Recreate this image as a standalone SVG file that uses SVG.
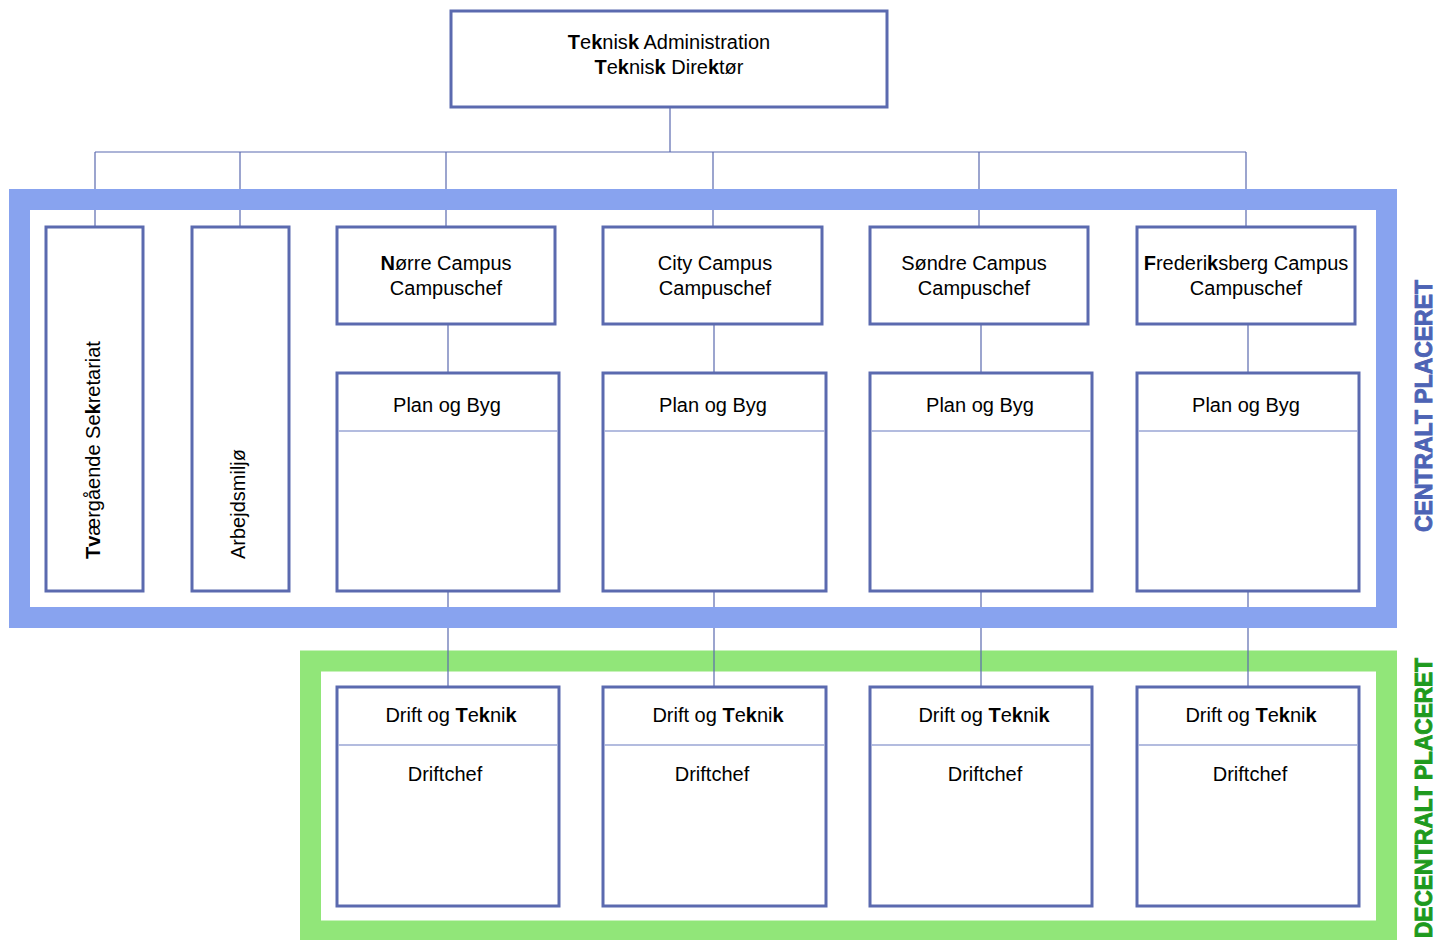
<svg xmlns="http://www.w3.org/2000/svg" width="1437" height="940" viewBox="0 0 1437 940">
<style>
.box{fill:#fff;stroke:#5B6AAF;stroke-width:3}
.con{stroke:#5B6AAF;stroke-width:1.2;fill:none}
.div{stroke:#9AA6D4;stroke-width:1.5}
text{font-family:"Liberation Sans",Arial,sans-serif;font-size:20px;fill:#000}
.c{text-anchor:middle}
.b{font-weight:bold}
.side{font-family:"Liberation Sans",Arial,sans-serif;font-weight:bold;font-size:24px;text-anchor:middle;stroke-width:0.9}
</style>
<rect width="1437" height="940" fill="#fff"/>
<g id="frame-decentral">
<rect x="310.5" y="661" width="1076" height="270" fill="none" stroke="#91E679" stroke-width="21"/>
</g>
<g id="connectors">
<path class="con" d="M670 107V152M95 152H1246M95 152V227M240 152V227M446 152V227M713 152V227M979 152V227M1246 152V227"/>
<path class="con" d="M448 324V373M714 324V373M981 324V373M1248 324V373"/>
<path class="con" d="M448 591V687M714 591V687M981 591V687M1248 591V687"/>
</g>
<g id="frame-central">
<rect x="19.5" y="199.5" width="1367" height="418" fill="none" stroke="#88A3EF" stroke-width="21"/>
</g>
<g id="top">
<rect class="box" x="451" y="11" width="436" height="96"/>
<text class="c" x="669" y="49"><tspan class="b">T</tspan>e<tspan class="b">k</tspan>nis<tspan class="b">k</tspan> Administration</text>
<text class="c" x="669" y="74"><tspan class="b">T</tspan>e<tspan class="b">k</tspan>nis<tspan class="b">k</tspan> Dire<tspan class="b">k</tspan>tør</text>
</g>
<g id="tvaergaaende">
<rect class="box" x="46" y="227" width="97" height="364"/>
<text transform="translate(100 559) rotate(-90)"><tspan class="b">Tv</tspan>ærgående Se<tspan class="b">k</tspan>retariat</text>
</g>
<g id="arbejdsmiljo">
<rect class="box" x="192" y="227" width="97" height="364"/>
<text transform="translate(245 559) rotate(-90)">Arbejdsmiljø</text>
</g>
<g id="norre">
<rect class="box" x="337" y="227" width="218" height="97"/>
<text class="c" x="446" y="270"><tspan class="b">N</tspan>ørre Campus</text>
<text class="c" x="446" y="295">Campuschef</text>
</g>
<g id="city">
<rect class="box" x="603" y="227" width="219" height="97"/>
<text class="c" x="715" y="270">City Campus</text>
<text class="c" x="715" y="295">Campuschef</text>
</g>
<g id="sondre">
<rect class="box" x="870" y="227" width="218" height="97"/>
<text class="c" x="974" y="270">Søndre Campus</text>
<text class="c" x="974" y="295">Campuschef</text>
</g>
<g id="frederiksberg">
<rect class="box" x="1137" y="227" width="218" height="97"/>
<text class="c" x="1246" y="270"><tspan class="b">F</tspan>rederi<tspan class="b">k</tspan>sberg Campus</text>
<text class="c" x="1246" y="295">Campuschef</text>
</g>
<g id="planbyg-norre">
<rect class="box" x="337" y="373" width="222" height="218"/>
<line class="div" x1="338.5" y1="431" x2="557.5" y2="431"/>
<text class="c" x="447" y="412">Plan og Byg</text>
</g>
<g id="planbyg-city">
<rect class="box" x="603" y="373" width="223" height="218"/>
<line class="div" x1="604.5" y1="431" x2="824.5" y2="431"/>
<text class="c" x="713" y="412">Plan og Byg</text>
</g>
<g id="planbyg-sondre">
<rect class="box" x="870" y="373" width="222" height="218"/>
<line class="div" x1="871.5" y1="431" x2="1090.5" y2="431"/>
<text class="c" x="980" y="412">Plan og Byg</text>
</g>
<g id="planbyg-frederiksberg">
<rect class="box" x="1137" y="373" width="222" height="218"/>
<line class="div" x1="1138.5" y1="431" x2="1357.5" y2="431"/>
<text class="c" x="1246" y="412">Plan og Byg</text>
</g>
<g id="drift-norre">
<rect class="box" x="337" y="687" width="222" height="219"/>
<line class="div" x1="338.5" y1="745" x2="557.5" y2="745"/>
<text class="c" x="451" y="722">Drift og <tspan class="b">T</tspan>e<tspan class="b">k</tspan>ni<tspan class="b">k</tspan></text>
<text class="c" x="445" y="781">Driftchef</text>
</g>
<g id="drift-city">
<rect class="box" x="603" y="687" width="223" height="219"/>
<line class="div" x1="604.5" y1="745" x2="824.5" y2="745"/>
<text class="c" x="718" y="722">Drift og <tspan class="b">T</tspan>e<tspan class="b">k</tspan>ni<tspan class="b">k</tspan></text>
<text class="c" x="712" y="781">Driftchef</text>
</g>
<g id="drift-sondre">
<rect class="box" x="870" y="687" width="222" height="219"/>
<line class="div" x1="871.5" y1="745" x2="1090.5" y2="745"/>
<text class="c" x="984" y="722">Drift og <tspan class="b">T</tspan>e<tspan class="b">k</tspan>ni<tspan class="b">k</tspan></text>
<text class="c" x="985" y="781">Driftchef</text>
</g>
<g id="drift-frederiksberg">
<rect class="box" x="1137" y="687" width="222" height="219"/>
<line class="div" x1="1138.5" y1="745" x2="1357.5" y2="745"/>
<text class="c" x="1251" y="722">Drift og <tspan class="b">T</tspan>e<tspan class="b">k</tspan>ni<tspan class="b">k</tspan></text>
<text class="c" x="1250" y="781">Driftchef</text>
</g>
<g id="labels">
<text class="side" style="fill:#4D63B5;stroke:#4D63B5" transform="translate(1432 406) rotate(-90)" textLength="252" lengthAdjust="spacingAndGlyphs">CENTRALT  PLACERET</text>
<text class="side" style="fill:#1E9A1E;stroke:#1E9A1E" transform="translate(1432 798) rotate(-90)" textLength="280" lengthAdjust="spacingAndGlyphs">DECENTRALT  PLACERET</text>
</g>
</svg>
